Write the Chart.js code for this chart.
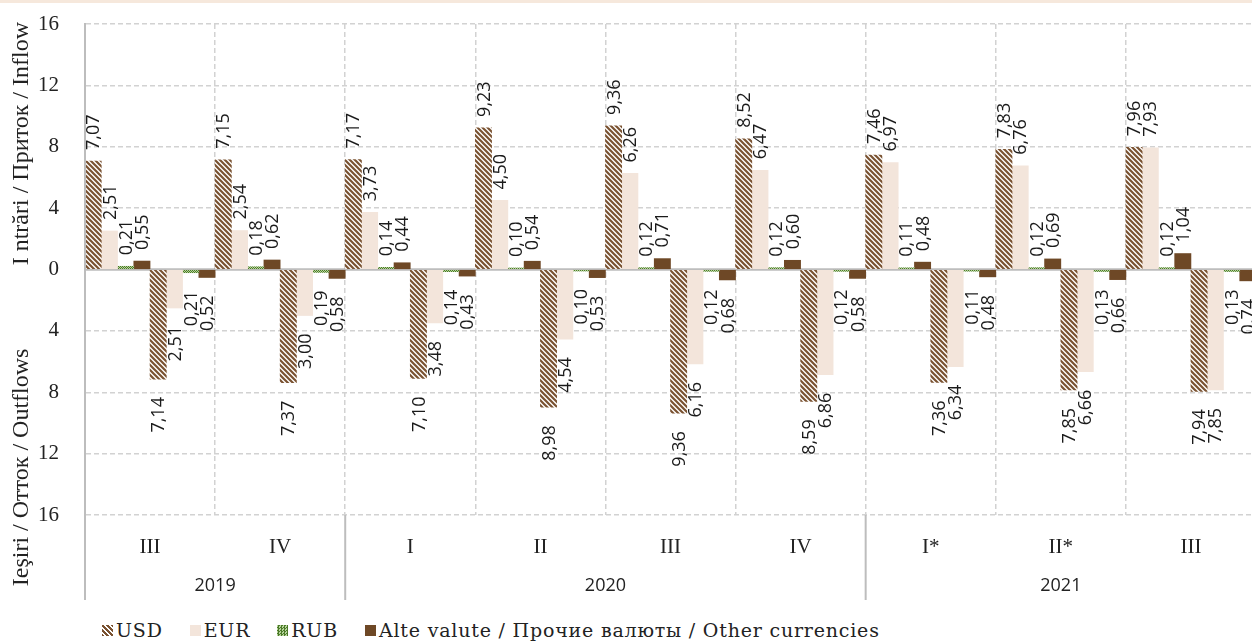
<!DOCTYPE html>
<html>
<head>
<meta charset="utf-8">
<script src="https://cdn.jsdelivr.net/npm/chart.js@4/dist/chart.umd.min.js"></script>
<style>
html,body{margin:0;padding:0;background:#fff;overflow:hidden;width:1252px;height:641px;}
#topbar{position:absolute;left:0;top:0;width:1252px;height:3px;background:#F6E8DC;z-index:2;}
#wrap{position:absolute;left:0;top:0;width:1262px;height:604px;}
#legend{position:absolute;left:102px;top:619px;display:flex;align-items:center;font-family:"DejaVu Serif",serif;font-size:19px;letter-spacing:0.8px;color:#222;white-space:nowrap;line-height:22px;}
.item{display:flex;align-items:center;margin-right:27px;}
.sw{width:11px;height:11px;margin-right:3px;flex:none;}
</style>
</head>
<body>
<div id="topbar"></div>
<div id="wrap"><canvas id="c" width="1262" height="604"></canvas></div>
<div id="legend"></div>
<script>
// ---- data ----
const quarters = ['III','IV','I','II','III','IV','I*','II*','III'];
const years = ['2019','2020','2021'];
const yearSpans = [2,4,3];
const seriesNames = ['USD','EUR','RUB','Alte valute / Прочие валюты / Other currencies'];

const usdIn   = [7.07, 7.15, 7.17, 9.23, 9.36, 8.52, 7.46, 7.83, 7.96];
const eurIn   = [2.51, 2.54, 3.73, 4.50, 6.26, 6.47, 6.97, 6.76, 7.93];
const rubIn   = [0.21, 0.18, 0.14, 0.10, 0.12, 0.12, 0.11, 0.12, 0.12];
const otherIn = [0.55, 0.62, 0.44, 0.54, 0.71, 0.60, 0.48, 0.69, 1.04];

const usdOut   = [7.14, 7.37, 7.10, 8.98, 9.36, 8.59, 7.36, 7.85, 7.94];
const eurOut   = [2.51, 3.00, 3.48, 4.54, 6.16, 6.86, 6.34, 6.66, 7.85];
const rubOut   = [0.21, 0.19, 0.14, 0.10, 0.12, 0.12, 0.11, 0.13, 0.13];
const otherOut = [0.52, 0.58, 0.43, 0.53, 0.68, 0.58, 0.48, 0.66, 0.74];

const yMin = -16, yMax = 16, yStep = 4;
const inflowTitle = 'I ntrări / Приток / Inflow';
const outflowTitle = 'Ieşiri / Отток / Outflows';

// ---- styles ----
const BROWN = '#7A5231';
const EURC = '#F3E5DB';
const OTHERC = '#6E4826';
const GRID = '#D2D2D2';
const AXIS = '#BDBDBD';

function hatchPattern(){
  const s = 5;
  const c = document.createElement('canvas'); c.width = s; c.height = s;
  const x = c.getContext('2d');
  x.fillStyle = '#fff'; x.fillRect(0,0,s,s);
  x.strokeStyle = BROWN; x.lineWidth = 2.2;
  x.beginPath();
  x.moveTo(-1,-1); x.lineTo(s+1,s+1);
  x.moveTo(-1,s-1); x.lineTo(1,s+1);
  x.moveTo(s-1,-1); x.lineTo(s+1,1);
  x.stroke();
  return x.createPattern(c,'repeat');
}
function checkPattern(){
  const c = document.createElement('canvas'); c.width = 2; c.height = 2;
  const x = c.getContext('2d');
  x.fillStyle = '#B7D49C'; x.fillRect(0,0,2,2);
  x.fillStyle = '#4B7A28'; x.fillRect(0,0,1,1); x.fillRect(1,1,1,1);
  return x.createPattern(c,'repeat');
}
const fills = [hatchPattern(), EURC, checkPattern(), OTHERC];

const inSets = [usdIn, eurIn, rubIn, otherIn];
const outSets = [usdOut, eurOut, rubOut, otherOut];
const datasets = [];
inSets.forEach((arr,k)=>datasets.push({label:seriesNames[k], data:arr.slice(), backgroundColor:fills[k], borderWidth:0}));
outSets.forEach((arr,k)=>datasets.push({label:seriesNames[k]+' (out)', data:arr.map(v=>-v), backgroundColor:fills[k], borderWidth:0}));

const fmt = v => Math.abs(v).toFixed(2).replace('.',',');

const valueLabels = {
  id:'valueLabels',
  afterDatasetsDraw(chart){
    const ctx = chart.ctx;
    ctx.save();
    ctx.font = '18px "Open Sans"';
    ctx.fillStyle = '#1a1a1a';
    ctx.textBaseline = 'middle';
    chart.data.datasets.forEach((ds,di)=>{
      const meta = chart.getDatasetMeta(di);
      meta.data.forEach((bar,i)=>{
        const v = ds.data[i];
        ctx.save();
        if (v >= 0){ ctx.translate(bar.x+1, bar.y-11); ctx.textAlign='left'; }
        else { ctx.translate(bar.x+1, bar.y+18); ctx.textAlign='right'; }
        ctx.rotate(-Math.PI/2);
        ctx.fillText(fmt(v),0,0);
        ctx.restore();
      });
    });
    ctx.restore();
  }
};

const frame = {
  id:'frame',
  beforeDatasetsDraw(chart){
    const {ctx, chartArea:a, scales:{x,y}} = chart;
    ctx.save();
    ctx.strokeStyle = AXIS; ctx.lineWidth = 2.5;
    const y0 = y.getPixelForValue(0);
    ctx.beginPath(); ctx.moveTo(a.left, y0); ctx.lineTo(a.right, y0); ctx.stroke();
    ctx.restore();
  },
  afterDraw(chart){
    const {ctx, chartArea:a, scales:{x,y}} = chart;
    const cell = (a.right - a.left)/quarters.length;
    const bottom = a.bottom + 85;
    ctx.save();
    ctx.strokeStyle = AXIS; ctx.lineWidth = 2;
    ctx.beginPath(); ctx.moveTo(a.left, a.top); ctx.lineTo(a.left, bottom); ctx.stroke();
    let idx = 0;
    ctx.font = '18px "Open Sans"'; ctx.fillStyle = '#222';
    ctx.textAlign = 'center'; ctx.textBaseline = 'middle';
    years.forEach((yr,k)=>{
      const start = x.getPixelForValue(idx) - cell/2;
      const end = x.getPixelForValue(idx + yearSpans[k] - 1) + cell/2;
      if (k>0){ ctx.beginPath(); ctx.moveTo(start, a.bottom); ctx.lineTo(start, bottom); ctx.stroke(); }
      ctx.fillText(yr, (start+end)/2, a.bottom + 71);
      idx += yearSpans[k];
    });
    // axis titles
    ctx.font = '24px "Liberation Serif"'; ctx.fillStyle = '#222';
    [[inflowTitle, y.getPixelForValue(8.2)],[outflowTitle, y.getPixelForValue(-12.9)]].forEach(([t,py])=>{
      ctx.save(); ctx.translate(22, py); ctx.rotate(-Math.PI/2);
      ctx.fillText(t,0,0); ctx.restore();
    });
    ctx.restore();
  }
};

new Chart(document.getElementById('c'), {
  type:'bar',
  data:{labels:quarters, datasets},
  options:{
    responsive:false, animation:false,
    layout:{padding:{top:24, right:6, left:0, bottom:0}},
    datasets:{bar:{categoryPercentage:1, barPercentage:1}},
    plugins:{legend:{display:false}, tooltip:{enabled:false}},
    scales:{
      x:{
        grid:{offset:true, drawTicks:false, color:(c)=> c.index===0 ? 'rgba(0,0,0,0)' : GRID, lineWidth:1.5},
        border:{display:false, dash:[5,3]},
        ticks:{padding:20, color:'#222', font:{family:'Liberation Serif', size:21}},
        afterFit(s){ s.height = 89; }
      },
      y:{
        min:yMin, max:yMax,
        grid:{drawTicks:false, color:(c)=> c.tick && c.tick.value===0 ? 'rgba(0,0,0,0)' : GRID, lineWidth:1.5},
        border:{display:true, color:AXIS, width:2, dash:[5,3]},
        ticks:{stepSize:yStep, padding:26, color:'#222', font:{family:'Liberation Serif', size:21}, callback:v=>Math.abs(v)},
        afterFit(s){ s.width = 85; s.paddingTop = 0; s.paddingBottom = 0; }
      }
    }
  },
  plugins:[frame, valueLabels]
});

// legend (HTML)
const swatchCss = [
  'background:repeating-linear-gradient(45deg,'+BROWN+' 0 2px,#fff 2px 3.5px);',
  'background:'+EURC+';',
  'background:repeating-conic-gradient(#4B7A28 0 25%,#B7D49C 0 50%) 0 0/3px 3px;',
  'background:'+OTHERC+';'
];
const lg = document.getElementById('legend');
seriesNames.forEach((n,k)=>{
  const it = document.createElement('div'); it.className='item';
  const sw = document.createElement('span'); sw.className='sw'; sw.style.cssText = swatchCss[k];
  const tx = document.createElement('span'); tx.textContent = n;
  it.appendChild(sw); it.appendChild(tx); lg.appendChild(it);
});
</script>
</body>
</html>
